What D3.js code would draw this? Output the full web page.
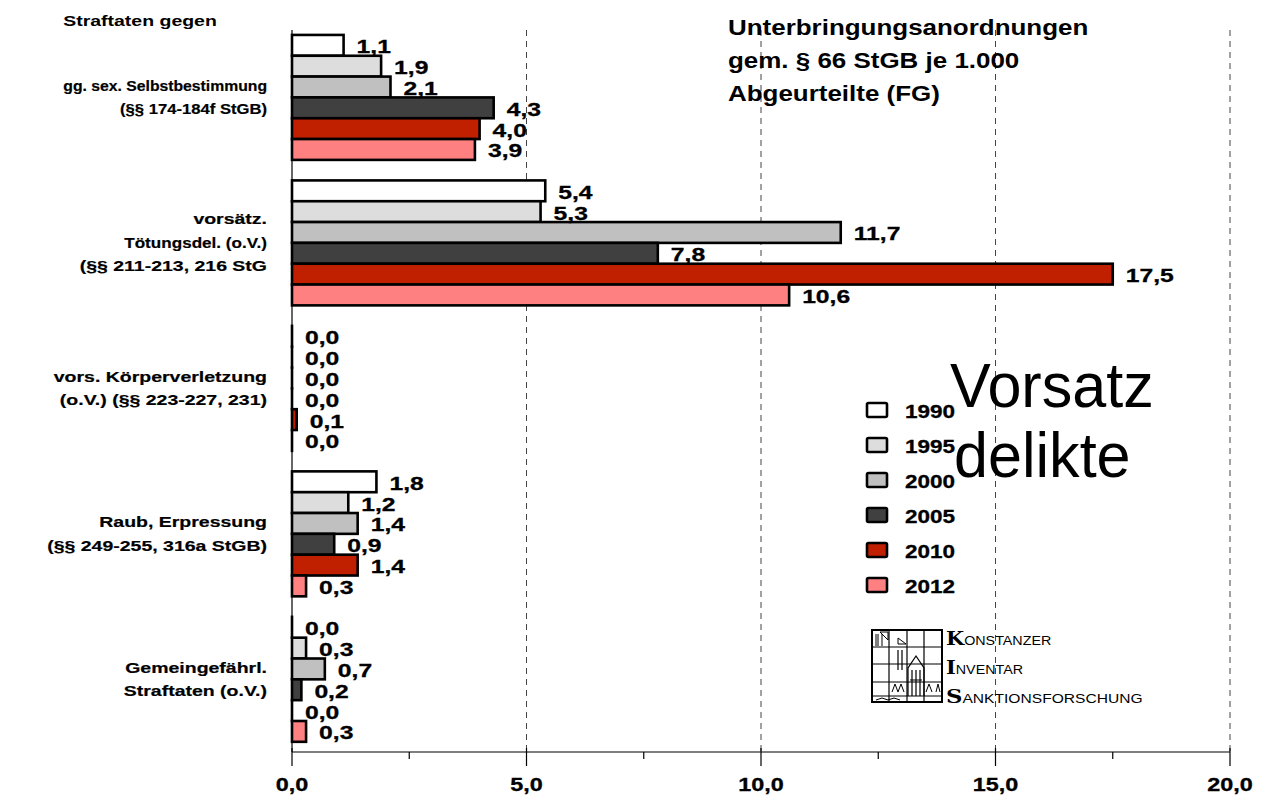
<!DOCTYPE html>
<html>
<head>
<meta charset="utf-8">
<script src="https://cdn.jsdelivr.net/npm/d3@7"></script>
<style>
  html, body { margin: 0; padding: 0; background: #fff; }
  svg { display: block; font-family: "Liberation Sans", Arial, sans-serif; }
</style>
</head>
<body>
<svg id="chart" width="1265" height="801"></svg>
<script>
// ---- data ----
const categories = [
  ["gg. sex. Selbstbestimmung", "(§§ 174-184f StGB)"],
  ["vorsätz.", "Tötungsdel. (o.V.)", "(§§ 211-213, 216 StG"],
  ["vors. Körperverletzung", "(o.V.) (§§ 223-227, 231)"],
  ["Raub, Erpressung", "(§§ 249-255, 316a StGB)"],
  ["Gemeingefährl.", "Straftaten (o.V.)"]
];
const years = ["1990", "1995", "2000", "2005", "2010", "2012"];
const values1990 = [1.1, 5.4, 0.0, 1.8, 0.0];
const values1995 = [1.9, 5.3, 0.0, 1.2, 0.3];
const values2000 = [2.1, 11.7, 0.0, 1.4, 0.7];
const values2005 = [4.3, 7.8, 0.0, 0.9, 0.2];
const values2010 = [4.0, 17.5, 0.1, 1.4, 0.0];
const values2012 = [3.9, 10.6, 0.0, 0.3, 0.3];
const yearColors = ["#ffffff", "#dddddd", "#c0c0c0", "#404040", "#c02000", "#ff8080"];
const xTicks = [0, 5, 10, 15, 20];
const minorTicks = [2.5, 7.5, 12.5, 17.5];
const titleLines = ["Unterbringungsanordnungen", "gem. § 66 StGB je 1.000", "Abgeurteilte (FG)"];
const headerLabel = "Straftaten gegen";
const bigLabel = ["Vorsatz", "delikte"];

const series = [values1990, values1995, values2000, values2005, values2010, values2012];
const fmt = v => d3.format(".1f")(v).replace(".", ",");
const SX = 1.3; // horizontal stretch of the original text
// per-line stretch of category label lines (style only)
const catStretch = [[1.05, 1.11], [1.3, 1.14, 1.3], [1.3, 1.3], [1.3, 1.3], [1.3, 1.3]];

// place a text at (x,y) with horizontal stretch
function stretched(sel, xf, yf, sx) {
  return sel.attr("x", 0).attr("y", 0)
    .attr("transform", function(d, i) {
      const xx = typeof xf === "function" ? xf(d, i) : xf;
      const yy = typeof yf === "function" ? yf(d, i) : yf;
      return `translate(${xx},${yy}) scale(${sx},1)`;
    });
}

// ---- layout ----
const svg = d3.select("#chart");
const x0 = 292, x1 = 1230, yTop = 24.75, yBot = 752;
const x = d3.scaleLinear().domain([0, 20]).range([x0, x1]);
const y = d3.scaleBand().domain(d3.range(categories.length)).range([yTop, yBot]).paddingInner(0.141).paddingOuter(0.07);
const yInner = d3.scaleBand().domain(d3.range(years.length)).range([0, y.bandwidth()]);

// gridlines
svg.append("g").selectAll("line").data(xTicks.slice(1)).join("line")
  .attr("x1", d => x(d)).attr("x2", d => x(d))
  .attr("y1", 30).attr("y2", yBot)
  .attr("stroke", "#444").attr("stroke-width", 1).attr("stroke-dasharray", "6,5");

// bars
const groups = svg.append("g").selectAll("g").data(categories).join("g")
  .attr("transform", (d, i) => `translate(0,${y(i)})`);

series.forEach((vals, s) => {
  groups.append("rect")
    .attr("x", x(0))
    .attr("y", yInner(s))
    .attr("width", (d, i) => Math.max(x(vals[i]) - x(0), 0.01))
    .attr("height", yInner.bandwidth())
    .attr("fill", yearColors[s])
    .attr("stroke", "#000")
    .attr("stroke-width", 2.6);
});
// value labels
series.forEach((vals, s) => {
  stretched(groups.append("text"),
      (d, i) => x(vals[i]) + 13,
      yInner(s) + yInner.bandwidth() / 2 + 8, SX)
    .attr("font-size", 19).attr("font-weight", "bold")
    .attr("stroke", "#000").attr("stroke-width", 0.3)
    .text((d, i) => fmt(vals[i]));
});

// category labels
groups.each(function(lines, i) {
  const g = d3.select(this);
  const c = y.bandwidth() / 2;
  const lh = 23.5;
  lines.forEach((t, k) => {
    stretched(g.append("text"), 267, c + (k - (lines.length - 1) / 2) * lh + 5, catStretch[i][k])
      .attr("text-anchor", "end")
      .attr("font-size", 15).attr("font-weight", "bold")
      .attr("stroke", "#000").attr("stroke-width", 0.2)
      .text(t);
  });
});
stretched(svg.append("text"), 140, 26, SX).attr("text-anchor", "middle")
  .attr("font-size", 15).attr("font-weight", "bold").text(headerLabel);

// y axis line
svg.append("line").attr("x1", x0).attr("x2", x0).attr("y1", 30).attr("y2", yBot)
  .attr("stroke", "#000").attr("stroke-width", 1.2);

// x axis
const xAxis = svg.append("g").attr("transform", `translate(0,${yBot})`);
xAxis.append("line").attr("x1", x0).attr("x2", x1).attr("stroke", "#000").attr("stroke-width", 1.2);
xAxis.selectAll(".maj").data(xTicks).join("line").attr("class", "maj")
  .attr("x1", d => x(d)).attr("x2", d => x(d)).attr("y1", -4).attr("y2", 14)
  .attr("stroke", "#000").attr("stroke-width", 1.2);
xAxis.selectAll(".min").data(minorTicks).join("line").attr("class", "min")
  .attr("x1", d => x(d)).attr("x2", d => x(d)).attr("y1", 0).attr("y2", 7)
  .attr("stroke", "#000").attr("stroke-width", 1.2);
stretched(xAxis.selectAll("text").data(xTicks).join("text"), d => x(d), 39, SX)
  .attr("text-anchor", "middle")
  .attr("font-size", 18).attr("font-weight", "bold")
  .attr("stroke", "#000").attr("stroke-width", 0.3)
  .text(d => fmt(d));

// title
stretched(svg.append("g").selectAll("text").data(titleLines).join("text"),
    728, (d, i) => 35 + i * 33, 1.18)
  .attr("font-size", 22).attr("font-weight", "bold").text(d => d);

// big label
stretched(svg.append("g").selectAll("text").data(bigLabel).join("text"),
    (d, i) => i === 0 ? 950 : 954, (d, i) => 407 + i * 70, 0.97)
  .attr("font-size", 63).text(d => d);

// legend
const leg = svg.append("g").attr("transform", "translate(866,402)");
years.forEach((yr, i) => {
  leg.append("rect").attr("x", 1).attr("y", i * 35 + 1).attr("width", 20).attr("height", 14)
    .attr("fill", yearColors[i]).attr("stroke", "#000").attr("stroke-width", 2.6).attr("rx", 1.5);
  stretched(leg.append("text"), 39, i * 35 + 16, 1.25)
    .attr("font-size", 18).attr("font-weight", "bold")
    .attr("stroke", "#000").attr("stroke-width", 0.3).text(yr);
});

// logo
const logo = svg.append("g").attr("transform", "translate(872,630)").attr("stroke", "#000").attr("fill", "none");
logo.append("rect").attr("x", 0).attr("y", 0).attr("width", 70).attr("height", 72).attr("stroke-width", 2);
[17, 35, 52].forEach(v => logo.append("line").attr("x1", v).attr("x2", v).attr("y1", 0).attr("y2", 72).attr("stroke-width", 1.2));
[17, 34, 52, 66].forEach(v => logo.append("line").attr("x1", 0).attr("x2", 70).attr("y1", v).attr("y2", v).attr("stroke-width", 1.2));
logo.append("path").attr("d", "M8,2 L16,2 L16,10 L8,2 M26,8 L34,14 L26,14 Z M4,4 L4,16 M6,4 L6,16 M10,4 L10,16").attr("stroke-width", 1);
logo.append("path").attr("d", "M36,66 L36,38 L44,26 L52,38 L52,66 M38,50 L50,50 M40,40 L40,66 M44,40 L44,66 M48,40 L48,66 M26,20 L26,40 M30,20 L30,40").attr("stroke-width", 1.2);
logo.append("path").attr("d", "M20,62 L23,54 L26,62 L29,54 L32,62 M54,62 L57,54 L60,62 M64,62 L66,54 L68,62").attr("stroke-width", 1);
logo.append("path").attr("d", "M4,70 L10,68 L16,70 L22,68 L28,70").attr("stroke-width", 1);
const logoText = svg.append("g").attr("fill", "#000").attr("font-family", "'DejaVu Serif', serif");
const logoLines = [["K", "ONSTANZER"], ["I", "NVENTAR"], ["S", "ANKTIONSFORSCHUNG"]];
logoLines.forEach((l, i) => {
  const t = stretched(logoText.append("text"), 946, 645 + i * 29, i === 2 ? 1.2 : 1.1);
  t.append("tspan").attr("font-size", 19).attr("font-weight", "bold").text(l[0]);
  t.append("tspan").attr("font-size", 13).attr("font-family", "'Liberation Sans', Arial, sans-serif").text(l[1]);
});
</script>
</body>
</html>
